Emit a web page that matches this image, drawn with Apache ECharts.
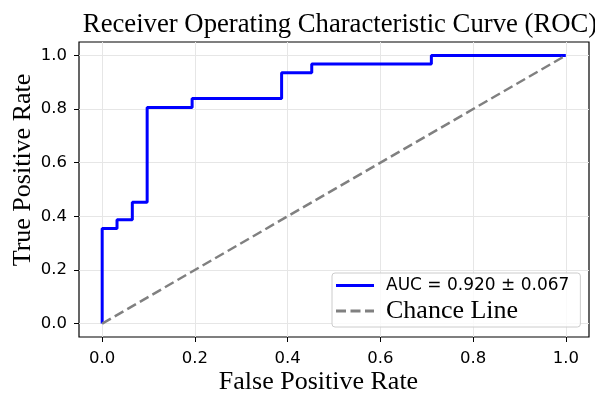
<!DOCTYPE html>
<html>
<head>
<meta charset="utf-8">
<script src="https://cdn.jsdelivr.net/npm/echarts@6/dist/echarts.min.js"></script>
<style>
  html, body { margin: 0; padding: 0; background: #ffffff; }
  #chart-container { width: 595px; height: 394px; }
</style>
</head>
<body>
<div id="chart-container"></div>
<script>
var dom = document.getElementById("chart-container");
var myChart = echarts.init(dom, null, { renderer: "canvas" });

// ROC points (one fold), as roc_curve would give them
const fpr = [0, 0, 0.032, 0.032, 0.065, 0.065, 0.097, 0.097, 0.194, 0.194, 0.387, 0.387, 0.452, 0.452, 0.71, 0.71, 1.0];
const tpr = [0, 0.355, 0.355, 0.387, 0.387, 0.452, 0.452, 0.806, 0.806, 0.839, 0.839, 0.935, 0.935, 0.968, 0.968, 1.0, 1.0];
const chanceX = [0, 1];
const chanceY = [0, 1];
const tickValues = [0, 0.2, 0.4, 0.6, 0.8, 1.0];
const rocName = "AUC = 0.920 ± 0.067";
const chanceName = "Chance Line";

const serif = "'Liberation Serif', 'Times New Roman', serif";
const sans = "'DejaVu Sans', sans-serif";

// legend samples: a solid bar and a dashed bar
const solidIcon = "path://M0,0H38V3H0Z";
const dashedIcon = "path://M0,0H10V3H0Z M14.5,0H24.5V3H14.5Z M29,0H38V3H29Z";

function pairs(xs, ys) {
  return xs.map(function (x, i) {
    return [x, ys[i]];
  });
}

// namePad nudges the axis title along the axis (the reference labels sit off-centre)
function valueAxis(name, nameGap, namePad, labelMargin) {
  return {
    type: "value",
    min: -0.05,
    max: 1.05,
    name: name,
    nameLocation: "middle",
    nameGap: nameGap,
    nameMoveOverlap: false,
    nameTextStyle: {
      fontFamily: serif,
      fontSize: 26,
      color: "#000000",
      padding: namePad,
    },
    axisLine: { show: false, onZero: false },
    axisTick: {
      show: true,
      length: 5,
      customValues: tickValues,
      lineStyle: { color: "#000000", width: 1 },
    },
    axisLabel: {
      customValues: tickValues,
      margin: labelMargin,
      fontFamily: sans,
      fontSize: 16.5,
      color: "#000000",
      formatter: function (v) {
        return v.toFixed(1);
      },
    },
    splitLine: {
      show: true,
      lineStyle: { color: "#e6e6e6", width: 1 },
    },
  };
}

var option = {
  backgroundColor: "#ffffff",
  animation: false,
  title: {
    text: "Receiver Operating Characteristic Curve (ROC)",
    left: 335,
    textAlign: "center",
    top: 6,
    textStyle: {
      fontFamily: serif,
      fontSize: 26.7,
      fontWeight: "normal",
      color: "#000000",
    },
  },
  grid: {
    left: 79,
    right: 6,
    top: 42,
    bottom: 57,
    outerBoundsMode: "none",
    show: true,
    borderColor: "#000000",
    borderWidth: 1.2,
    backgroundColor: "transparent",
  },
  xAxis: valueAxis("False Positive Rate", 32, [0, 31, 0, 0], 13),
  yAxis: valueAxis("True Positive Rate", 43, [0, 0, 0, 39], 12),
  legend: {
    orient: "vertical",
    left: 332,
    top: 273,
    padding: [4, 11, 3, 4],
    itemGap: 4,
    itemWidth: 38,
    itemHeight: 14,
    backgroundColor: "rgba(255,255,255,0.8)",
    borderColor: "#cccccc",
    borderWidth: 1,
    borderRadius: 3,
    data: [
      {
        name: rocName,
        icon: solidIcon,
        textStyle: { fontFamily: sans, fontSize: 17, color: "#000000", padding: [0, 0, 0, 7] },
      },
      {
        name: chanceName,
        icon: dashedIcon,
        textStyle: { fontFamily: serif, fontSize: 26, color: "#000000", padding: [0, 0, 0, 7] },
      },
    ],
  },
  series: [
    {
      name: rocName,
      type: "line",
      data: pairs(fpr, tpr),
      symbol: "none",
      z: 3,
      lineStyle: { color: "#0000ff", width: 3 },
      itemStyle: { color: "#0000ff" },
    },
    {
      name: chanceName,
      type: "line",
      data: pairs(chanceX, chanceY),
      symbol: "none",
      z: 4,
      lineStyle: { color: "#808080", width: 2.5, type: [10, 4.5] },
      itemStyle: { color: "#808080" },
    },
  ],
};

myChart.setOption(option);
window.addEventListener("resize", myChart.resize);
</script>
</body>
</html>
